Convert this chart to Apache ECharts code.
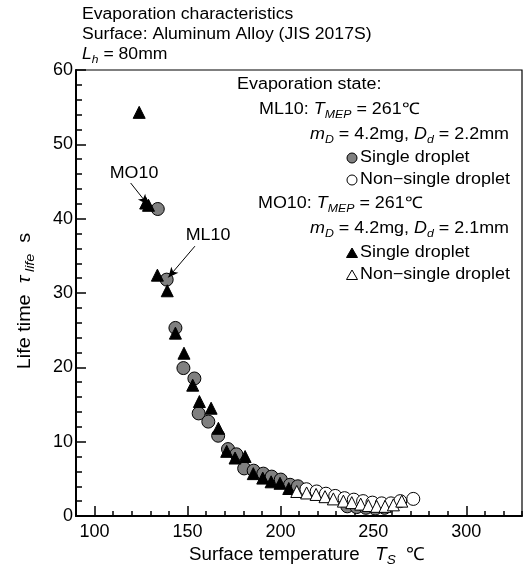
<!DOCTYPE html>
<html>
<head>
<meta charset="utf-8">
<script src="https://cdn.jsdelivr.net/npm/echarts@6/dist/echarts.min.js"></script>
<style>
  html, body { margin: 0; padding: 0; background: #fff; }
  #chart { width: 524px; height: 569px; }
</style>
</head>
<body>
<div id="chart"></div>
<script>
  // ML10, single droplet (grey circles)
  var ml10Single = [
    [134.0, 41.3], [138.8, 31.8], [143.5, 25.3], [147.8, 19.9], [153.7, 18.5],
    [156.0, 13.8], [161.2, 12.7], [166.5, 10.8], [171.8, 9.0], [176.3, 8.3],
    [180.5, 6.4], [185.6, 6.1], [190.8, 5.7], [195.3, 5.3], [200.2, 4.9],
    [205.2, 4.2], [209.4, 4.0], [236.0, 1.3], [241.0, 1.2], [246.0, 1.1],
    [251.0, 1.0], [256.0, 1.1]
  ];
  // ML10, non-single droplet (open circles)
  var ml10NonSingle = [
    [214.0, 3.6], [219.5, 3.3], [224.5, 3.0], [229.5, 2.7], [234.5, 2.4],
    [239.5, 2.2], [244.5, 2.0], [249.5, 1.8], [254.5, 1.7], [259.5, 1.7],
    [264.5, 2.0], [271.5, 2.3]
  ];
  // MO10, single droplet (black triangles)
  var mo10Single = [
    [124.0, 54.3], [127.5, 42.1], [129.0, 41.8], [133.8, 32.4], [139.1, 30.3],
    [143.5, 24.6], [148.1, 21.9], [152.8, 17.6], [156.4, 15.4], [162.7, 14.5],
    [166.6, 11.8], [171.1, 8.7], [175.6, 7.8], [181.0, 8.0], [185.4, 5.7],
    [190.5, 5.1], [195.0, 4.6], [199.8, 4.4], [204.5, 3.7]
  ];
  // MO10, non-single droplet (open triangles)
  var mo10NonSingle = [
    [208.8, 3.3], [214.1, 3.1], [219.2, 2.9], [224.0, 2.6], [228.5, 2.3],
    [233.9, 2.0], [238.4, 1.8], [243.2, 1.6], [247.3, 1.4], [251.8, 1.3],
    [256.3, 1.3], [260.8, 1.5], [265.3, 2.0]
  ];

  var xMajorTicks = [100, 150, 200, 250, 300];

  // annotation arrows: [from, to] in data units
  var arrowMO10 = [[119.4, 44.8], [128.6, 41.9]];
  var arrowML10 = [[154.0, 36.3], [139.7, 32.1]];

  var FONT = '"Liberation Sans", Arial, Helvetica, sans-serif';

  function makeRich(size) {
    var lh = Math.round(size * 1.2);
    var sub = Math.round(size * 0.7);
    return {
      n: { fontSize: size, fontFamily: FONT, lineHeight: lh, color: '#000' },
      i: { fontSize: size, fontFamily: FONT, fontStyle: 'italic', lineHeight: lh, color: '#000' },
      sub: { fontSize: sub, fontFamily: FONT, fontStyle: 'italic', lineHeight: sub, padding: [lh - sub + 2, 0, 0, 0], color: '#000' }
    };
  }
  var rich16 = makeRich(16);
  var rich17 = makeRich(17);
  var rich18 = makeRich(18);

  function txt(x, y, text, rich, align, sx) {
    return {
      type: 'text', x: x, y: y, z: 100, scaleX: sx || 1,
      style: {
        text: text, rich: rich,
        font: '16px ' + FONT, fill: '#000',
        align: align || 'left', verticalAlign: 'middle',
        textAlign: align || 'left', textVerticalAlign: 'middle'
      }
    };
  }

  var chartDom = document.getElementById('chart');
  var myChart = echarts.init(chartDom);

  var HS = 1.1;   // header stretch
  var LS = 1.12;  // legend stretch

  var option = {
    animation: false,
    backgroundColor: '#fff',
    grid: {
      left: 76, top: 70, width: 446, height: 446,
      show: true, borderColor: '#000', borderWidth: 1.2,
      containLabel: false
    },
    xAxis: [
      {
        type: 'value', min: 90, max: 330, interval: 10,
        axisLine: { show: true, onZero: false, lineStyle: { color: '#000', width: 2 } },
        axisTick: { show: true, inside: true, length: 10, customValues: xMajorTicks, lineStyle: { color: '#000', width: 1.5 } },
        axisLabel: { show: true, customValues: xMajorTicks, fontSize: 18, fontFamily: FONT, color: '#000', margin: 7 },
        splitLine: { show: false }
      },
      {
        type: 'value', min: 90, max: 330, interval: 10, position: 'bottom',
        axisLine: { show: false },
        axisTick: { show: true, inside: true, length: 5, lineStyle: { color: '#000', width: 1.5 } },
        axisLabel: { show: false },
        splitLine: { show: false }
      }
    ],
    yAxis: {
      type: 'value', min: 0, max: 60, interval: 10,
      axisLine: { show: true, onZero: false, lineStyle: { color: '#000', width: 2 } },
      axisTick: { show: true, inside: true, length: 10, lineStyle: { color: '#000', width: 1.5 } },
      minorTick: { show: true, splitNumber: 5, length: 6, lineStyle: { color: '#000', width: 1.5 } },
      axisLabel: { fontSize: 18, fontFamily: FONT, color: '#000', margin: 3 },
      splitLine: { show: false },
      minorSplitLine: { show: false }
    },
    series: [
      {
        type: 'scatter', name: 'ML10 single', data: ml10Single,
        symbol: 'circle', symbolSize: 13,
        itemStyle: { color: '#808080', borderColor: '#000', borderWidth: 1, opacity: 1 }
      },
      {
        type: 'scatter', name: 'ML10 non-single', data: ml10NonSingle,
        symbol: 'circle', symbolSize: 13,
        itemStyle: { color: '#fff', borderColor: '#000', borderWidth: 1, opacity: 1 }
      },
      {
        type: 'scatter', name: 'MO10 single', data: mo10Single,
        symbol: 'triangle', symbolSize: 12,
        itemStyle: { color: '#000', borderColor: '#000', borderWidth: 1, opacity: 1 },
        markLine: {
          silent: true,
          symbol: ['none', 'arrow'],
          symbolSize: [7, 10],
          label: { show: false },
          lineStyle: { color: '#000', width: 1, type: 'solid' },
          emphasis: { disabled: true },
          data: [
            [{ coord: arrowMO10[0] }, { coord: arrowMO10[1] }],
            [{ coord: arrowML10[0] }, { coord: arrowML10[1] }]
          ]
        }
      },
      {
        type: 'scatter', name: 'MO10 non-single', data: mo10NonSingle,
        symbol: 'triangle', symbolSize: 12,
        itemStyle: { color: '#fff', borderColor: '#000', borderWidth: 1, opacity: 1 }
      }
    ],
    graphic: [
      // header
      txt(82, 15, '{n|Evaporation characteristics}', rich16, 'left', HS),
      txt(82, 35, '{n|Surface: Aluminum Alloy (JIS 2017S)}', rich16, 'left', HS),
      txt(82, 55, '{i|L}{sub|h}{n| = 80mm}', rich16, 'left', HS),
      // legend block
      txt(237, 85, '{n|Evaporation state:}', rich16, 'left', LS),
      txt(259, 110, '{n|ML10: }{i|T}{sub|MEP}{n| = 261\u2103}', rich16, 'left', LS),
      txt(310, 135, '{i|m}{sub|D}{n| = 4.2mg, }{i|D}{sub|d}{n| = 2.2mm}', rich16, 'left', LS),
      txt(360, 158, '{n|Single droplet}', rich16, 'left', LS),
      txt(360, 180, '{n|Non\u2212single droplet}', rich16, 'left', LS),
      txt(258, 204, '{n|MO10: }{i|T}{sub|MEP}{n| = 261\u2103}', rich16, 'left', LS),
      txt(310, 229, '{i|m}{sub|D}{n| = 4.2mg, }{i|D}{sub|d}{n| = 2.1mm}', rich16, 'left', LS),
      txt(360, 253, '{n|Single droplet}', rich16, 'left', LS),
      txt(360, 275, '{n|Non\u2212single droplet}', rich16, 'left', LS),
      { type: 'circle', z: 100, shape: { cx: 352, cy: 158, r: 5 }, style: { fill: '#808080', stroke: '#000', lineWidth: 1 } },
      { type: 'circle', z: 100, shape: { cx: 352, cy: 180, r: 5 }, style: { fill: '#fff', stroke: '#000', lineWidth: 1 } },
      { type: 'polygon', z: 100, shape: { points: [[346.5, 257.5], [357.5, 257.5], [352, 248]] }, style: { fill: '#000', stroke: '#000', lineWidth: 1 } },
      { type: 'polygon', z: 100, shape: { points: [[346.5, 279.5], [357.5, 279.5], [352, 270]] }, style: { fill: '#fff', stroke: '#000', lineWidth: 1 } },
      // annotation labels
      txt(134, 173, '{n|MO10}', rich17, 'center', 1.05),
      txt(208, 235, '{n|ML10}', rich17, 'center', 1.05),
      // axis titles
      txt(189, 555, '{n|Surface temperature   }{i|T}{sub|S}{n|  \u2103}', rich18, 'left', 1.04),
      {
        type: 'text', x: 25, y: 301, rotation: Math.PI / 2, z: 100, scaleX: 1.1,
        style: {
          text: '{n|Life time  }{i|\u03c4}{sub| life}{n|  s}', rich: rich18,
          font: '18px ' + FONT, fill: '#000',
          align: 'center', verticalAlign: 'middle',
          textAlign: 'center', textVerticalAlign: 'middle'
        }
      }
    ]
  };

  myChart.setOption(option);
</script>
</body>
</html>
